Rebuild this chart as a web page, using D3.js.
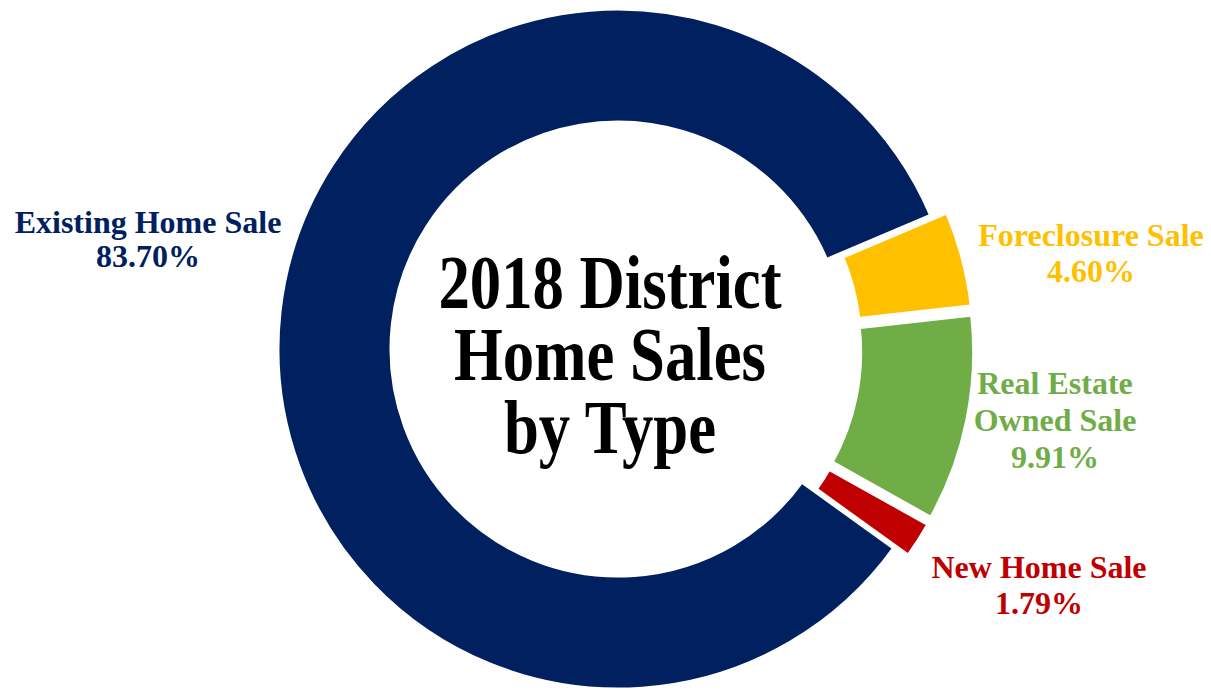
<!DOCTYPE html>
<html>
<head>
<meta charset="utf-8">
<script src="https://cdn.jsdelivr.net/npm/d3@7"></script>
<style>
  html, body { margin: 0; padding: 0; background: #fff; }
  svg { display: block; }
  text { font-family: "Liberation Serif", "Times New Roman", serif; font-weight: bold; }
</style>
</head>
<body>
<div id="chart"></div>
<script>
// slice data, in drawing order (clockwise from the Foreclosure slice)
var categories = ["Foreclosure Sale", "Real Estate Owned Sale", "New Home Sale", "Existing Home Sale"];
var shares = [4.60, 9.91, 1.79, 83.70];
var labelLines = [["Foreclosure Sale"], ["Real Estate", "Owned Sale"], ["New Home Sale"], ["Existing Home Sale"]];
var colors = ["#FFC000", "#70AD47", "#C00000", "#002060"];
var exploded = [true, true, true, false];
var titleLines = ["2018 District", "Home Sales", "by Type"];

var width = 1211, height = 691;
var cx = 618, cy = 349;
var outerR = 341, innerR = 226;
var explodeBy = 16;

// where each label block sits (center x, first baseline, line step)
var labelPos = {
  "Foreclosure Sale":       {x: 1091, y: 246, step: 36},
  "Real Estate Owned Sale": {x: 1055, y: 394, step: 37},
  "New Home Sale":          {x: 1039, y: 578, step: 36},
  "Existing Home Sale":     {x: 148,  y: 233, step: 34}
};

var data = categories.map(function(c, i) {
  return {name: c, value: shares[i], color: colors[i], lines: labelLines[i], explode: exploded[i]};
});

var svg = d3.select("#chart").append("svg")
  .attr("width", width)
  .attr("height", height);

var start = 67.0 * Math.PI / 180;
var pie = d3.pie()
  .sort(null)
  .value(function(d) { return d.value; })
  .startAngle(start)
  .endAngle(start + 2 * Math.PI);

var arc = d3.arc()
  .innerRadius(innerR)
  .outerRadius(outerR);

var g = svg.append("g")
  .attr("transform", "translate(" + cx + "," + cy + ")");

g.selectAll("path.slice")
  .data(pie(data))
  .enter().append("path")
  .attr("class", "slice")
  .attr("d", arc)
  .attr("fill", function(d) { return d.data.color; })
  .attr("stroke", "#fff")
  .attr("stroke-width", 5)
  .attr("stroke-linejoin", "miter")
  .attr("transform", function(d) {
    if (!d.data.explode) return null;
    var a = (d.startAngle + d.endAngle) / 2;
    return "translate(" + (Math.sin(a) * explodeBy) + "," + (-Math.cos(a) * explodeBy) + ")";
  });

// data labels: name lines + percentage
var labels = svg.selectAll("text.label")
  .data(data)
  .enter().append("text")
  .attr("class", "label")
  .attr("text-anchor", "middle")
  .attr("font-size", 32)
  .attr("fill", function(d) { return d.color; });

labels.each(function(d) {
  var p = labelPos[d.name];
  var t = d3.select(this);
  var lines = d.lines.concat([d3.format(".2f")(d.value) + "%"]);
  lines.forEach(function(l, i) {
    t.append("tspan")
      .attr("x", p.x)
      .attr("y", p.y + i * p.step)
      .text(l);
  });
});

// title in the hole, a bit narrow like the original
var title = svg.append("g")
  .attr("transform", "translate(610,0) scale(0.815,1)");

title.selectAll("text")
  .data(titleLines)
  .enter().append("text")
  .attr("text-anchor", "middle")
  .attr("x", 0)
  .attr("y", function(d, i) { return 308 + i * 72.5; })
  .attr("font-size", 77)
  .attr("fill", "#000")
  .text(function(d) { return d; });
</script>
</body>
</html>
